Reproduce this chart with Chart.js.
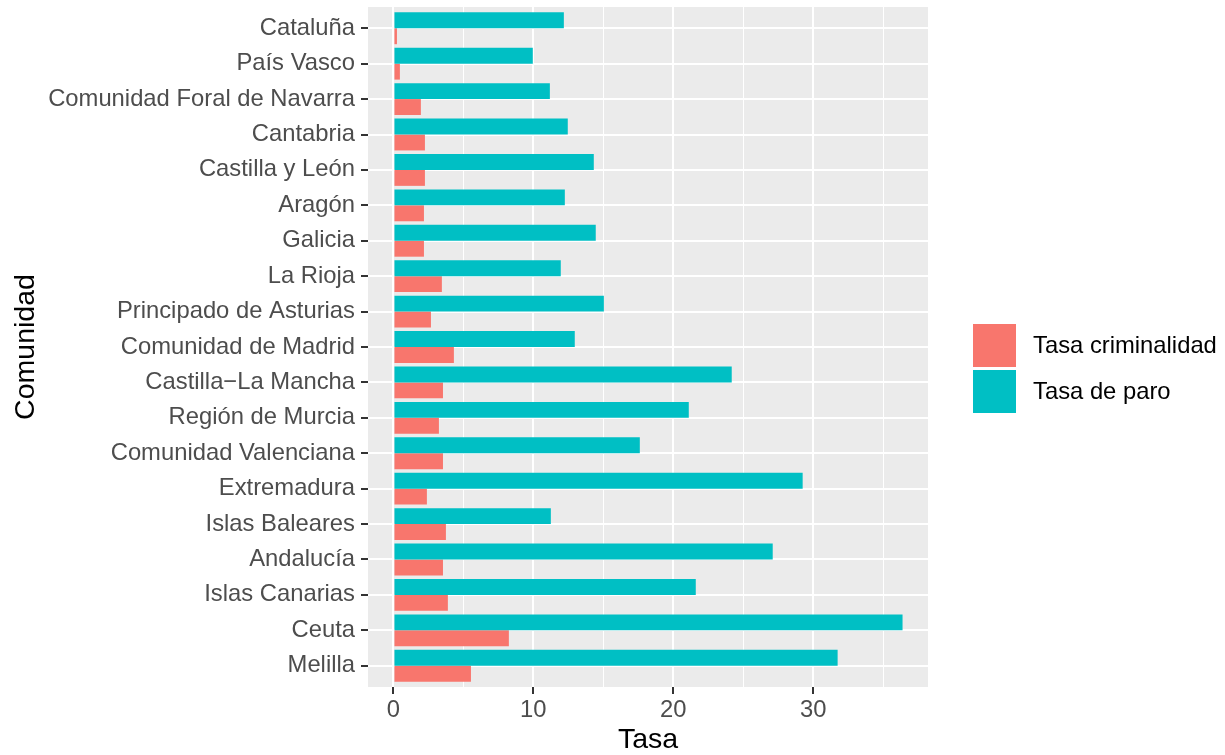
<!DOCTYPE html>
<html>
<head>
<meta charset="utf-8">
<script src="https://cdn.jsdelivr.net/npm/chart.js@4/dist/chart.umd.min.js"></script>
<style>
  html, body { margin: 0; padding: 0; background: #ffffff; }
  #wrap { width: 1225px; height: 755px; position: relative; }
</style>
</head>
<body>
<div id="wrap"><canvas id="c" width="1225" height="755"></canvas></div>
<script>
const categories = ['Cataluña', 'País Vasco', 'Comunidad Foral de Navarra', 'Cantabria', 'Castilla y León',
  'Aragón', 'Galicia', 'La Rioja', 'Principado de Asturias', 'Comunidad de Madrid', 'Castilla\u2212La Mancha',
  'Región de Murcia', 'Comunidad Valenciana', 'Extremadura', 'Islas Baleares', 'Andalucía', 'Islas Canarias',
  'Ceuta', 'Melilla'];
const tasaParo = [12.18, 9.96, 11.18, 12.46, 14.32, 12.25, 14.46, 11.96, 15.04, 12.96, 24.18,
  21.11, 17.61, 29.25, 11.25, 27.11, 21.61, 36.39, 31.75];
const tasaCriminalidad = [0.25, 0.46, 1.96, 2.25, 2.25, 2.18, 2.18, 3.46, 2.68, 4.32, 3.54,
  3.25, 3.54, 2.39, 3.75, 3.54, 3.89, 8.25, 5.54];
const xTicks = [0, 5, 10, 15, 20, 25, 30, 35];
const seriesNames = ['Tasa de paro', 'Tasa criminalidad'];
const legendOrder = ['Tasa criminalidad', 'Tasa de paro'];

const FONT = "'Liberation Sans', Arial, Helvetica, sans-serif";
const allVals = tasaParo.concat(tasaCriminalidad);
const dMax = Math.max(...allVals);
const expand = dMax * 0.05;

const toPoints = arr => arr.map((v, i) => ({ x: v, y: i + 1 }));

const panelBg = {
  id: 'panelBg',
  beforeDraw(chart) {
    const { ctx, chartArea: a } = chart;
    ctx.save();
    ctx.fillStyle = '#EBEBEB';
    ctx.fillRect(a.left, a.top, a.right - a.left, a.bottom - a.top);
    ctx.restore();
  }
};

const ggLegend = {
  id: 'ggLegend',
  afterDraw(chart) {
    const { ctx } = chart;
    const boxX = 973, boxW = 43, boxH = 43, top0 = 324, step = 46;
    ctx.save();
    legendOrder.forEach((name, k) => {
      const ds = chart.data.datasets.find(d => d.label === name);
      const y = top0 + k * step;
      ctx.fillStyle = ds.backgroundColor;
      ctx.fillRect(boxX, y, boxW, boxH);
      ctx.fillStyle = '#000000';
      ctx.font = '23.8px ' + FONT;
      ctx.textAlign = 'left';
      ctx.textBaseline = 'middle';
      ctx.fillText(name, 1033, y + boxH / 2 + 0.5);
    });
    ctx.restore();
  }
};

new Chart(document.getElementById('c'), {
  type: 'bar',
  data: {
    datasets: [
      { label: seriesNames[0], data: toPoints(tasaParo), backgroundColor: '#00BFC4', borderWidth: 0,
        categoryPercentage: 0.9, barPercentage: 1.0 },
      { label: seriesNames[1], data: toPoints(tasaCriminalidad), backgroundColor: '#F8766D', borderWidth: 0,
        categoryPercentage: 0.9, barPercentage: 1.0 }
    ]
  },
  options: {
    indexAxis: 'y',
    responsive: false,
    animation: false,
    devicePixelRatio: 1,
    layout: { padding: { top: 7, right: 297, left: 0, bottom: 0 } },
    plugins: { legend: { display: false }, tooltip: { enabled: false } },
    scales: {
      x: {
        type: 'linear',
        min: -expand,
        max: dMax + expand,
        offset: false,
        afterBuildTicks: s => { s.ticks = xTicks.map(v => ({ value: v })); },
        afterFit: s => { s.height = 68; },
        border: { display: false },
        grid: {
          offset: false,
          color: '#FFFFFF',
          lineWidth: c => (c.tick && c.tick.value % 10 === 0) ? 2 : 1,
          drawTicks: true,
          tickLength: 7,
          tickWidth: 2,
          tickColor: c => (c.tick && c.tick.value % 10 === 0) ? '#333333' : 'rgba(0,0,0,0)'
        },
        ticks: {
          autoSkip: false,
          maxRotation: 0,
          padding: 2,
          color: '#4D4D4D',
          font: { family: FONT, size: 23.8 },
          callback: v => (v % 10 === 0 ? String(v) : '')
        },
        title: {
          display: true,
          text: 'Tasa',
          color: '#000000',
          font: { family: FONT, size: 28.5, lineHeight: 1.05 },
          padding: { top: 0, bottom: 0 }
        }
      },
      y: {
        type: 'linear',
        reverse: true,
        min: 0.4,
        max: categories.length + 0.6,
        offset: false,
        afterBuildTicks: s => { s.ticks = categories.map((_, i) => ({ value: i + 1 })); },
        afterFit: s => { s.width = 368; s.paddingTop = 0; s.paddingBottom = 0; },
        border: { display: false },
        grid: {
          offset: false,
          color: '#FFFFFF',
          lineWidth: 2,
          drawTicks: true,
          tickLength: 7,
          tickWidth: 2,
          tickColor: '#333333'
        },
        ticks: {
          autoSkip: false,
          padding: 6,
          color: '#4D4D4D',
          font: { family: FONT, size: 23.8 },
          callback: v => categories[Math.round(v) - 1] || ''
        },
        title: {
          display: true,
          text: 'Comunidad',
          color: '#000000',
          font: { family: FONT, size: 28.5 },
          padding: { top: 9, bottom: 0 }
        }
      }
    }
  },
  plugins: [panelBg, ggLegend]
});
</script>
</body>
</html>
